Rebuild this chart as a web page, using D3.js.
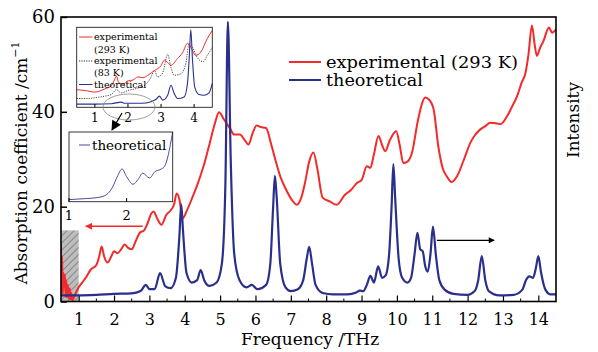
<!DOCTYPE html>
<html><head><meta charset="utf-8">
<script src="https://cdn.jsdelivr.net/npm/d3@7"></script>
<style>body{margin:0;background:#fff}svg{display:block}text{font-family:"DejaVu Serif",serif;fill:#000}</style>
</head><body><svg id="c" width="598" height="352"></svg>
<script>
// ---------- data ----------
const freqTicks = [1,2,3,4,5,6,7,8,9,10,11,12,13,14];
const absTicks = [0,20,40,60];
const expFreq = [0.5,0.51,0.53,0.55,0.57,0.59,0.61,0.63,0.65,0.67,0.69,0.71,0.73,0.75,0.77,0.79,0.82,0.86,0.9,1.0,1.1,1.2,1.35,1.5,1.58,1.65,1.72,1.82,1.92,2.0,2.1,2.2,2.3,2.4,2.5,2.6,2.73,2.85,2.95,3.05,3.12,3.22,3.34,3.48,3.6,3.7,3.77,3.85,3.9,3.95,4.05,4.23,4.35,4.43,4.55,4.71,4.85,4.97,5.1,5.28,5.4,5.56,5.7,5.8,5.92,6.03,6.15,6.3,6.45,6.6,6.72,6.84,7.06,7.17,7.3,7.4,7.52,7.64,7.75,7.9,8.1,8.3,8.53,8.7,8.87,9.0,9.15,9.25,9.35,9.48,9.58,9.67,9.8,9.98,10.08,10.18,10.3,10.42,10.6,10.7,10.8,10.92,11.04,11.17,11.3,11.41,11.55,11.7,11.9,12.08,12.2,12.36,12.5,12.64,12.8,12.93,13.12,13.25,13.4,13.52,13.64,13.72,13.82,13.9,13.96,14.05,14.15,14.3,14.39,14.5];
const expVal = [12,2,9.5,1.5,6,3,5.7,1,4.5,0.8,3.5,2.5,0.5,2.8,0.4,1.8,0.3,0.8,1.5,3.0,4.0,5.0,6.8,7.7,9.5,11.6,9.5,8.2,9.5,10.6,10.2,11,12,11.3,11,12.5,14.5,15,16.5,18.5,19,17.5,16.2,18.3,19.2,20.5,22.8,21.5,19,17.6,19,22.2,24.5,26.2,29,33.5,37.5,39.9,38.5,36.5,35.2,35.2,34,33.1,35.5,37.1,36.8,36.6,33,28.9,26,24,21.1,20.4,22,25,29.5,31.4,28,21.9,21.1,20.4,22.5,23.5,25,25.6,28.5,28.2,31,34.9,33,31.7,34,35.9,33,29.2,29.5,31.2,38.4,41.5,43,42.5,40.5,32.8,28,26.4,25.2,26.4,30,33.5,35,36.3,37,37.7,37.6,37.4,39.1,41,43.3,46,48.3,52,58.2,54,51.8,53.5,55,57.8,56.7,57.4];
const theoFreq = [0.5,1.0,1.5,2.0,2.5,2.75,2.9,3.0,3.15,3.3,3.45,3.6,3.75,3.85,3.9,3.95,4.05,4.2,4.35,4.45,4.55,4.7,4.9,5.05,5.15,5.22,5.3,5.4,5.55,5.75,5.9,6.05,6.3,6.42,6.5,6.55,6.6,6.7,6.85,7.0,7.2,7.35,7.45,7.52,7.6,7.7,7.9,8.2,8.6,8.85,8.95,9.05,9.15,9.25,9.35,9.47,9.58,9.68,9.78,9.85,9.9,9.95,10.05,10.15,10.3,10.4,10.5,10.58,10.66,10.73,10.8,10.87,10.95,11.02,11.1,11.2,11.35,11.6,12.0,12.2,12.3,12.4,12.5,12.6,12.9,13.3,13.55,13.65,13.75,13.85,13.93,14.0,14.08,14.2,14.35,14.5];
const theoVal = [1.3,1.3,1.4,1.6,1.7,2.2,3.5,2.6,2.6,6.0,3.2,2.8,5,14,20.5,15,6,4,4.5,6.6,4.5,3.3,4,8,25,59,30,10,4.5,3,3.5,2.6,3.5,8,20,26.5,22,8,3,2.2,2.6,4.5,9,11.5,8,3.5,1.8,1.5,1.5,1.9,2.3,2.2,3.5,5.4,4,7.4,5,5.5,10,20,29,22,9,5,4,5,10,14.5,11,10.6,7.5,6.3,10,15.8,10,4.5,2.5,1.6,1.4,2.2,4.5,9.6,4.5,2.2,1.3,1.4,2.5,4.5,5.3,5,7,9.6,6,2.5,1.5,1.5];

// inset 1 (upper left)
const in1Ticks = [1,2,3,4];
const in1RedFreq = [0.45,0.7,1.0,1.3,1.5,1.6,1.65,1.72,1.85,2.0,2.15,2.3,2.45,2.6,2.8,3.0,3.1,3.2,3.3,3.5,3.65,3.8,3.9,4.05,4.2,4.4,4.55];
const in1RedVal  = [2.2,2.1,1.9,2.3,2.7,3.5,3.9,3.1,2.9,3.3,3.4,3.8,3.7,4.0,4.6,5.2,5.9,5.6,5.25,6.1,6.8,8.0,7.5,6.5,6.9,8.6,9.6];
const in1ColdFreq = [0.45,0.8,1.0,1.3,1.5,1.65,1.8,2.0,2.3,2.55,2.7,2.8,2.9,3.05,3.2,3.3,3.4,3.6,3.75,3.85,3.95,4.1,4.27,4.4,4.55];
const in1ColdVal  = [1.1,1.1,1.2,1.4,1.6,2.2,1.8,2.1,2.4,2.9,3.8,4.6,3.8,4.3,6.6,5.0,4.0,4.2,5.5,8.0,7.5,6.2,5.7,6.5,7.5];
const in1TheoFreq = [0.45,1.0,1.5,1.8,1.9,2.4,2.7,2.85,2.95,3.05,3.2,3.3,3.4,3.5,3.7,3.8,3.85,3.9,3.95,4.02,4.15,4.3,4.45,4.55];
const in1TheoVal  = [0.4,0.4,0.45,0.65,0.5,0.5,0.7,1.0,1.4,0.9,1.5,2.75,1.7,1.1,1.3,3,6,9.7,6,2.5,1.6,1.5,1.8,3.0];
// inset 2 (zoom of theoretical, 1-2.8 THz)
const in2Ticks = [1,2];
const in2Freq = [1.0,1.3,1.5,1.65,1.75,1.85,1.92,2.0,2.11,2.2,2.28,2.4,2.49,2.58,2.66,2.72,2.76,2.8];
const in2Val  = [0.3,0.45,0.6,1.0,2.0,3.8,4.7,3.6,2.5,3.2,4.1,3.4,4.3,4.6,5.1,6.6,8.2,10];

// ---------- drawing ----------
const svg = d3.select('#c');
const RED = '#f42a2a', BLUE = '#2a2f8c';
const L = 61, R = 556, T = 17, B = 301.5;
const x = d3.scaleLinear().domain([0.5,14.5]).range([L,R]);
const y = d3.scaleLinear().domain([0,60]).range([B,T]);
const zip = (a,b) => a.map((v,i)=>[v,b[i]]);

const defs = svg.append('defs');
defs.append('clipPath').attr('id','clipMain').append('rect').attr('x',L).attr('y',T).attr('width',R-L).attr('height',B-T);
const pat = defs.append('pattern').attr('id','hatch').attr('patternUnits','userSpaceOnUse')
  .attr('width',5).attr('height',5).attr('patternTransform','rotate(45)');
pat.append('rect').attr('width',5).attr('height',5).attr('fill','#bdbdbd');
pat.append('line').attr('x1',0).attr('y1',0).attr('x2',0).attr('y2',5).attr('stroke','#555').attr('stroke-width',1);
function marker(id,color,w,h){
  defs.append('marker').attr('id',id).attr('viewBox','0 0 10 10').attr('refX',9).attr('refY',5)
    .attr('markerUnits','userSpaceOnUse').attr('markerWidth',w).attr('markerHeight',h).attr('orient','auto')
    .append('path').attr('d','M0,0 L10,5 L0,10 Z').attr('fill',color);
}
marker('arRed',RED,9,7); marker('arBlk','#000',9,6); marker('arBig','#000',11,10);

// hatched low-frequency region
svg.append('rect').attr('x',x(0.5)).attr('y',y(15)).attr('width',x(1)-x(0.5)).attr('height',y(0)-y(15))
  .attr('fill','url(#hatch)');

// axes (inward ticks)
const gx = svg.append('g').attr('transform',`translate(0,${B})`)
  .call(d3.axisBottom(x).tickValues(freqTicks).tickFormat(d3.format('d')).tickSizeInner(-6).tickSizeOuter(0).tickPadding(12));
gx.select('.domain').remove();
gx.selectAll('text').attr('font-size',16).attr('font-family','DejaVu Serif');
gx.selectAll('line').attr('stroke-width',1.2);
svg.append('g').selectAll('line').data(d3.range(1.5,14.5,1)).join('line')
  .attr('x1',d=>x(d)).attr('x2',d=>x(d)).attr('y1',B).attr('y2',B-3).attr('stroke','#000').attr('stroke-width',1);
const gy = svg.append('g').attr('transform',`translate(${L},0)`)
  .call(d3.axisLeft(y).tickValues(absTicks).tickSizeInner(-6).tickSizeOuter(0).tickPadding(6));
gy.select('.domain').remove();
gy.selectAll('text').attr('font-size',18).attr('font-family','DejaVu Serif');
gy.selectAll('line').attr('stroke-width',1.5);

// series
const line = d3.line().x(d=>x(d[0])).y(d=>y(d[1])).curve(d3.curveMonotoneX);
const gl = svg.append('g').attr('clip-path','url(#clipMain)');
gl.append('path').datum(zip(expFreq,expVal)).attr('d',line).attr('fill','none').attr('stroke',RED).attr('stroke-width',2);
gl.append('path').datum(zip(theoFreq,theoVal)).attr('d',line).attr('fill','none').attr('stroke',BLUE).attr('stroke-width',2.2);

// frame
svg.append('rect').attr('x',L).attr('y',T).attr('width',R-L).attr('height',B-T).attr('fill','none').attr('stroke','#000').attr('stroke-width',1.6);

// arrows
svg.append('line').attr('x1',x(2.81)).attr('x2',x(1.2)).attr('y1',y(15.85)).attr('y2',y(15.85))
  .attr('stroke',RED).attr('stroke-width',1.5).attr('marker-end','url(#arRed)');
svg.append('line').attr('x1',x(11.13)).attr('x2',x(12.75)).attr('y1',y(12.9)).attr('y2',y(12.9))
  .attr('stroke','#000').attr('stroke-width',1.2).attr('marker-end','url(#arBlk)');

// legend
const lg = [{t:'experimental (293 K)',c:RED,yy:62,w:192},{t:'theoretical',c:BLUE,yy:80,w:97}];
lg.forEach(d=>{
  svg.append('line').attr('x1',289).attr('x2',321).attr('y1',d.yy).attr('y2',d.yy).attr('stroke',d.c).attr('stroke-width',2);
  svg.append('text').attr('x',326).attr('y',d.yy).attr('dy','0.36em').attr('font-size',16)
    .attr('textLength',d.w).attr('lengthAdjust','spacingAndGlyphs').text(d.t);
});

// axis titles
svg.append('text').attr('x',310).attr('y',339).attr('dy','0.36em').attr('text-anchor','middle').attr('font-size',17).text('Frequency /THz');
const yt = svg.append('text').attr('transform','translate(21,163) rotate(-90)').attr('text-anchor','middle').attr('font-size',17).attr('dy','0.36em');
yt.append('tspan').text('Absorption coefficient /cm');
yt.append('tspan').attr('font-size',11).attr('dy','-0.75em').text('−1');
svg.append('text').attr('transform','translate(573,120) rotate(-90)').attr('text-anchor','middle').attr('dy','0.36em').attr('font-size',17).text('Intensity');

// ---------- inset 1 ----------
const x1 = d3.scaleLinear().domain([0.45,4.55]).range([76.7,212.3]);
const y1 = d3.scaleLinear().domain([0,10]).range([107.3,27.3]);
svg.append('rect').attr('x',76.7).attr('y',27.3).attr('width',135.6).attr('height',80).attr('fill','#fff');
const l1 = d3.line().x(d=>x1(d[0])).y(d=>y1(d[1])).curve(d3.curveMonotoneX);
svg.append('path').datum(zip(in1ColdFreq,in1ColdVal)).attr('d',l1).attr('fill','none').attr('stroke','#333').attr('stroke-width',0.9).attr('stroke-dasharray','1.2,1.2');
svg.append('path').datum(zip(in1RedFreq,in1RedVal)).attr('d',l1).attr('fill','none').attr('stroke',RED).attr('stroke-width',1);
svg.append('path').datum(zip(in1TheoFreq,in1TheoVal)).attr('d',l1).attr('fill','none').attr('stroke',BLUE).attr('stroke-width',1.1);
svg.append('rect').attr('x',76.7).attr('y',27.3).attr('width',135.6).attr('height',80).attr('fill','none').attr('stroke','#222').attr('stroke-width',0.9);
svg.append('g').selectAll('line').data(in1Ticks).join('line').attr('x1',d=>x1(d)).attr('x2',d=>x1(d)).attr('y1',107.3).attr('y2',104).attr('stroke','#000');
svg.append('g').selectAll('text').data(in1Ticks).join('text').attr('x',d=>x1(d)).attr('y',117.5).attr('dy','0.36em')
  .attr('text-anchor','middle').attr('font-size',12).text(d=>d);
const lg1 = [{t:'experimental',c:RED,yy:37,d:null,line:true},{t:'(293 K)',yy:50},{t:'experimental',c:'#333',yy:61,d:'1.2,1.2',line:true},{t:'(83 K)',yy:73},{t:'theoretical',c:BLUE,yy:84.5,line:true}];
lg1.forEach(d=>{
  if(d.line) svg.append('line').attr('x1',79).attr('x2',92.5).attr('y1',d.yy).attr('y2',d.yy).attr('stroke',d.c).attr('stroke-width',1).attr('stroke-dasharray',d.d);
  svg.append('text').attr('x',94).attr('y',d.yy).attr('dy','0.36em').attr('font-size',9.5).text(d.t);
});
// ellipse + pointer
svg.append('ellipse').attr('cx',129).attr('cy',107).attr('rx',26).attr('ry',13).attr('fill','none').attr('stroke','#888').attr('stroke-width',0.8);
svg.append('line').attr('x1',122).attr('y1',113).attr('x2',112).attr('y2',130).attr('stroke','#000').attr('stroke-width',1.2).attr('marker-end','url(#arBig)');

// ---------- inset 2 ----------
const x2 = d3.scaleLinear().domain([1,2.8]).range([69,172.7]);
const y2 = d3.scaleLinear().domain([0,10]).range([201.7,132]);
svg.append('rect').attr('x',69).attr('y',132).attr('width',103.7).attr('height',69.7).attr('fill','#fff');
const l2 = d3.line().x(d=>x2(d[0])).y(d=>y2(d[1])).curve(d3.curveMonotoneX);
svg.append('path').datum(zip(in2Freq,in2Val)).attr('d',l2).attr('fill','none').attr('stroke','#4a4aa6').attr('stroke-width',1);
svg.append('rect').attr('x',69).attr('y',132).attr('width',103.7).attr('height',69.7).attr('fill','none').attr('stroke','#222').attr('stroke-width',0.9);
svg.append('g').selectAll('line').data(in2Ticks).join('line').attr('x1',d=>x2(d)).attr('x2',d=>x2(d)).attr('y1',201.7).attr('y2',198).attr('stroke','#000');
svg.append('g').selectAll('text').data(in2Ticks).join('text').attr('x',d=>x2(d)).attr('y',215).attr('dy','0.36em')
  .attr('text-anchor','middle').attr('font-size',13).text(d=>d);
svg.append('line').attr('x1',79).attr('x2',90).attr('y1',145).attr('y2',145).attr('stroke','#4a4aa6').attr('stroke-width',1);
svg.append('text').attr('x',92).attr('y',145).attr('dy','0.36em').attr('font-size',13.5).text('theoretical');
</script></body></html>
